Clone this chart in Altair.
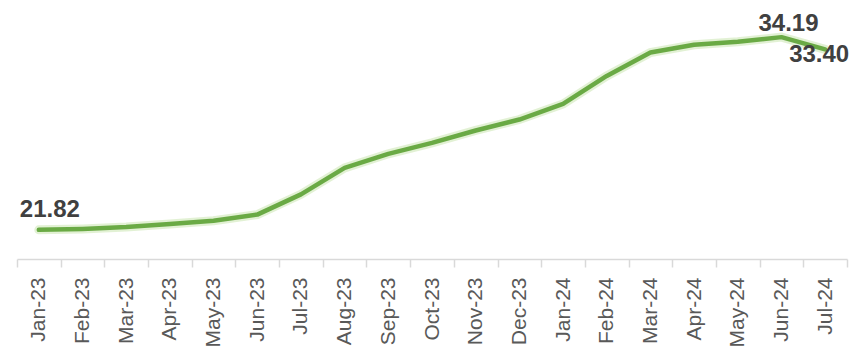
import altair as alt
import pandas as pd

months = ["Jan-23", "Feb-23", "Mar-23", "Apr-23", "May-23", "Jun-23", "Jul-23",
          "Aug-23", "Sep-23", "Oct-23", "Nov-23", "Dec-23", "Jan-24", "Feb-24",
          "Mar-24", "Apr-24", "May-24", "Jun-24", "Jul-24"]
values = [21.82, 21.88, 22.00, 22.20, 22.40, 22.80, 24.10, 25.80, 26.70, 27.40,
          28.20, 28.90, 29.90, 31.70, 33.20, 33.70, 33.90, 34.19, 33.40]
labels = ["21.82", "", "", "", "", "", "", "", "", "", "", "", "", "", "", "", "", "34.19", "33.40"]

df = pd.DataFrame({"month": months, "value": values, "label": labels, "idx": list(range(len(months)))})

x = alt.X("month:N", sort=months, title=None,
          scale=alt.Scale(paddingInner=0, paddingOuter=0),
          axis=alt.Axis(labelAngle=-90, labelFont="Liberation Sans", labelFontSize=21,
                        labelColor="#595959", tickBand="extent", tickSize=8,
                        tickColor="#d9d9d9", domainColor="#d9d9d9", domainWidth=1.5,
                        tickWidth=1.5, labelPadding=10, grid=False))
y = alt.Y("value:Q", scale=alt.Scale(domain=[19.95, 36.06], nice=False, zero=False), axis=None)

base = alt.Chart(df).encode(x=x, y=y)

glow = base.mark_line(color="#cfe8b8", strokeWidth=9, opacity=0.6, strokeCap="round")
line = base.mark_line(color="#6aaa45", strokeWidth=4.5, strokeCap="round", strokeJoin="round")

def lab(i, dx, dy):
    return base.transform_filter(alt.datum.idx == i).mark_text(
        font="Liberation Sans", fontSize=24, fontWeight="bold", color="#404040",
        dx=dx, dy=dy, baseline="middle", align="center").encode(text="label:N")

chart = alt.layer(glow, line, lab(0, 11, -20), lab(17, 7, -13), lab(18, -6, 6)).properties(
    width=830, height=251,
    autosize=alt.AutoSizeParams(type="none"),
    padding={"left": 9, "top": 0, "right": 4, "bottom": 90},
).configure_view(stroke=None)

chart.save("out.html", embed_options={"renderer": "svg", "actions": False})
